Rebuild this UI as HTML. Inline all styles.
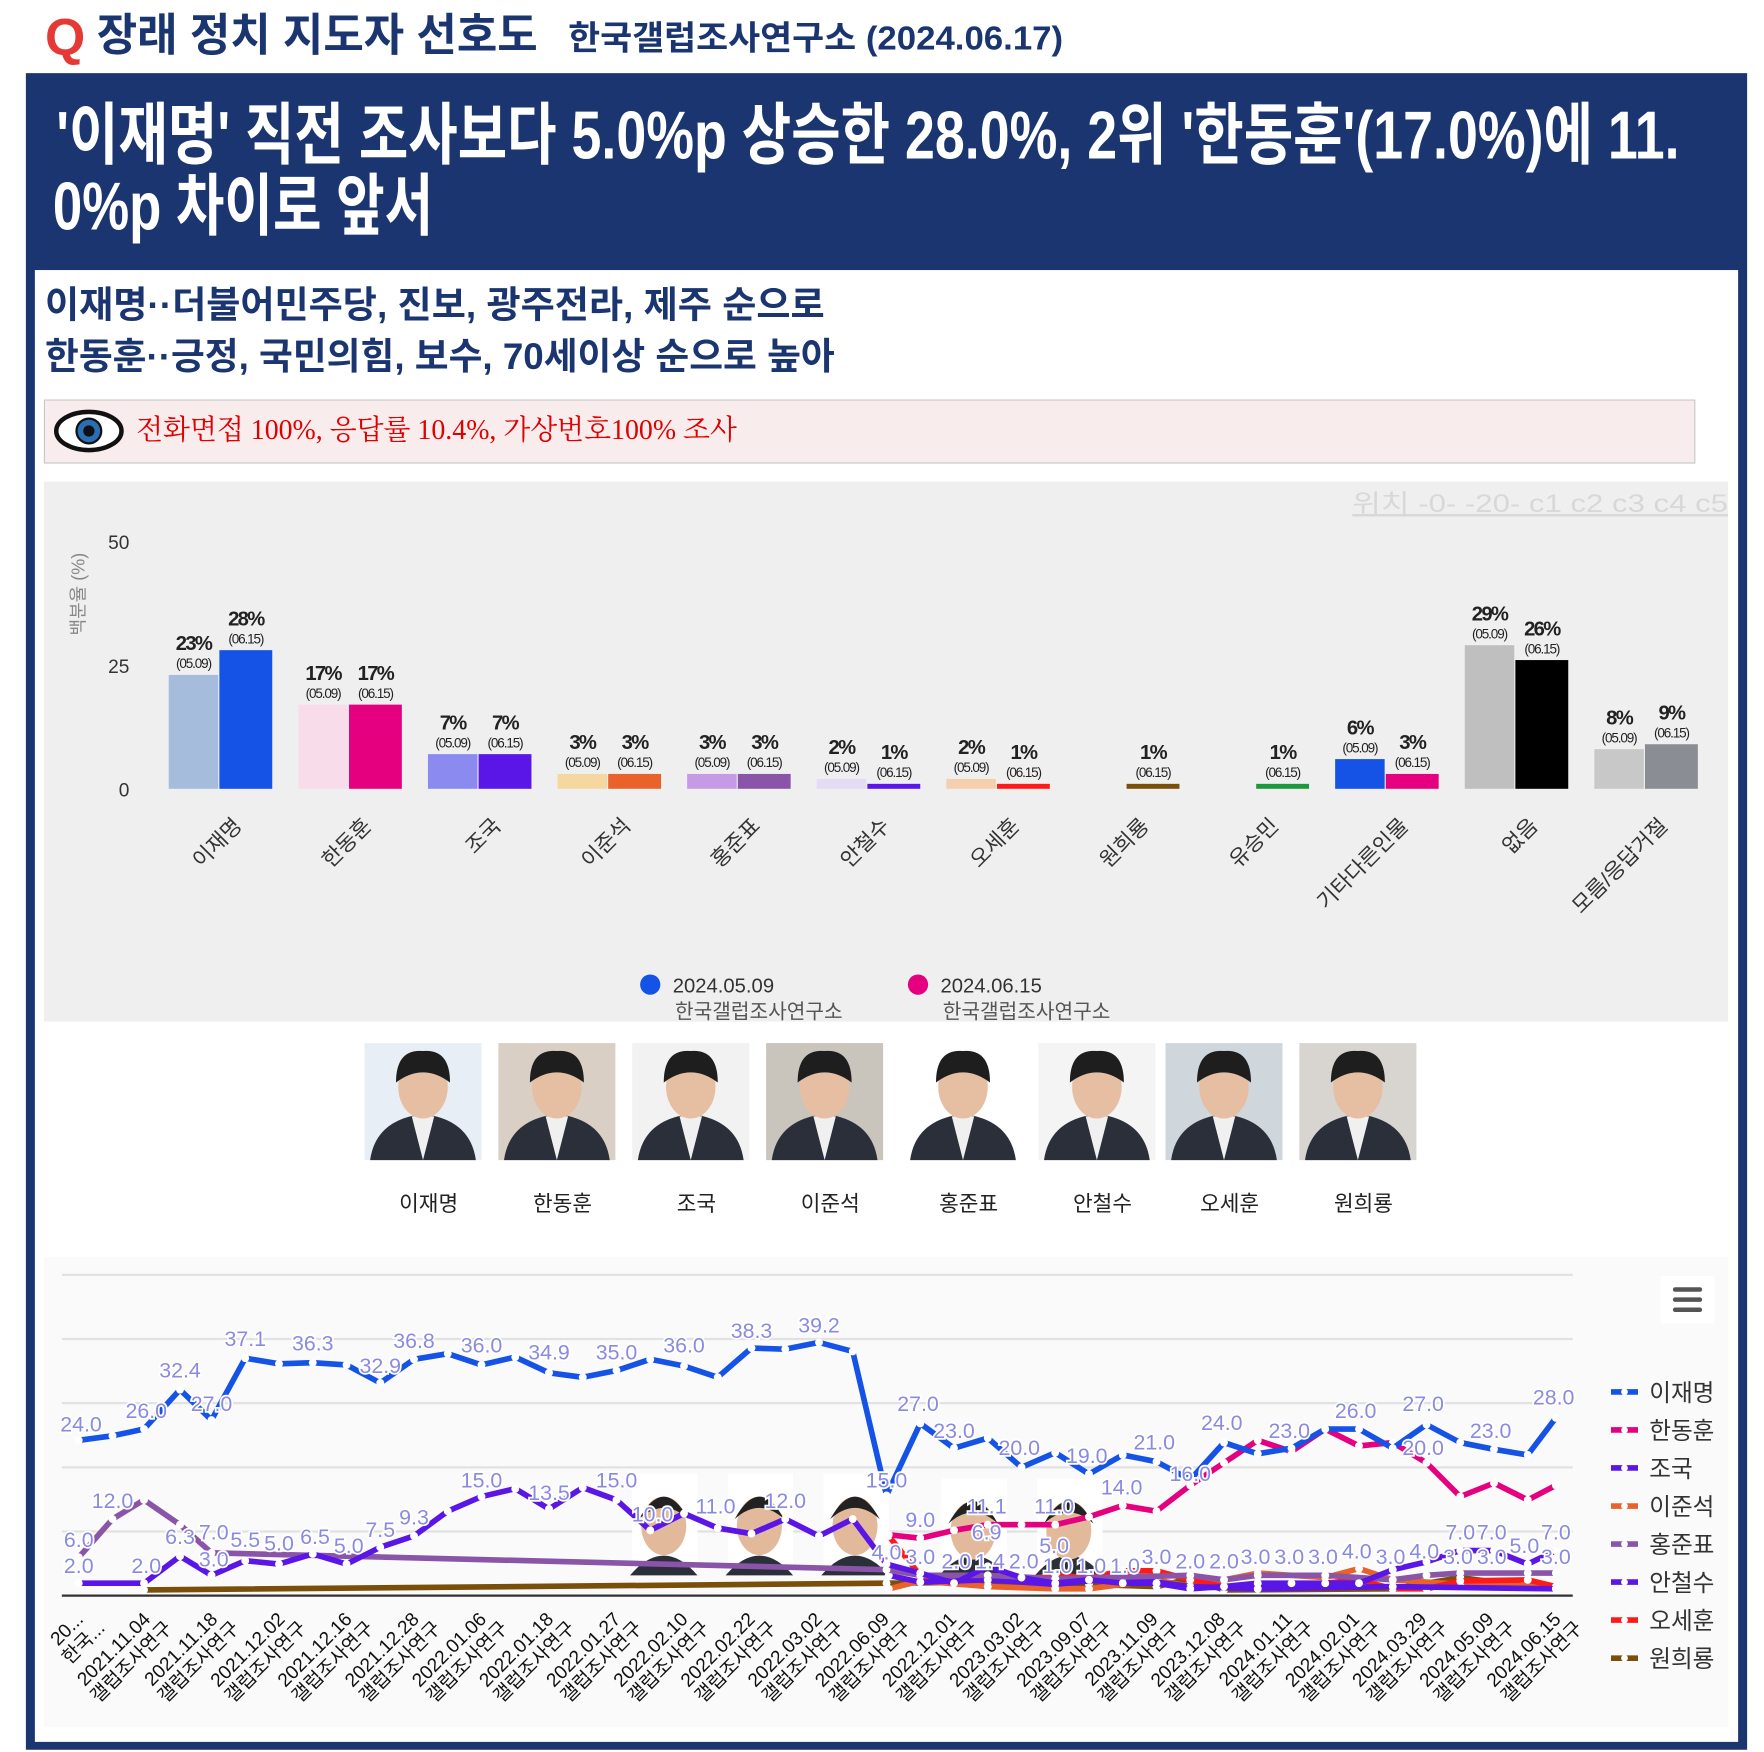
<!DOCTYPE html>
<html><head><meta charset="utf-8">
<style>
html,body{margin:0;padding:0;background:#fff;}
#w{width:1764px;height:1752px;overflow:hidden;}
svg{display:block;}
text{font-family:"Liberation Sans","Noto Sans CJK KR",sans-serif;}
</style></head>
<body><div id="w">
<svg id="s" width="1764" height="1752" viewBox="0 0 1568 1557" preserveAspectRatio="none" xmlns="http://www.w3.org/2000/svg">
<rect width="1568" height="1557" fill="#fff"/>
<text x="40" y="49" font-size="46" font-weight="bold" fill="#e53935">Q</text>
<text x="86" y="45" font-size="40" font-weight="bold" fill="#1a3570" textLength="392" lengthAdjust="spacingAndGlyphs">장래 정치 지도자 선호도</text>
<text x="505" y="44" font-size="30" font-weight="bold" fill="#1a3570" textLength="440" lengthAdjust="spacingAndGlyphs">한국갤럽조사연구소 (2024.06.17)</text>
<rect x="23" y="65" width="1530" height="1490" fill="#1a3570"/>
<text x="50" y="141" font-size="60" font-weight="bold" fill="#fff" textLength="1443" lengthAdjust="spacingAndGlyphs">'이재명' 직전 조사보다 5.0%p 상승한 28.0%, 2위 '한동훈'(17.0%)에 11.</text>
<text x="47" y="204" font-size="60" font-weight="bold" fill="#fff" textLength="338" lengthAdjust="spacingAndGlyphs">0%p 차이로 앞서</text>
<rect x="31" y="240" width="1514" height="1308" fill="#fff"/>
<text x="40" y="282" font-size="33" font-weight="bold" fill="#1a3570" textLength="693" lengthAdjust="spacingAndGlyphs">이재명··더불어민주당, 진보, 광주전라, 제주 순으로</text>
<text x="40" y="328" font-size="33" font-weight="bold" fill="#1a3570" textLength="702" lengthAdjust="spacingAndGlyphs">한동훈··긍정, 국민의힘, 보수, 70세이상 순으로 높아</text>
<rect x="39.5" y="355.5" width="1467" height="56" fill="#f8ecec" stroke="#c8c8c8"/>
<ellipse cx="79" cy="383" rx="29" ry="17" fill="#fff" stroke="#111" stroke-width="4"/>
<circle cx="79" cy="383" r="11" fill="#2a6fb5" stroke="#111" stroke-width="2"/>
<circle cx="79" cy="383" r="5" fill="#111"/>
<text x="121" y="390" font-size="25" fill="#e00000" textLength="534" lengthAdjust="spacingAndGlyphs" style="font-family:'Liberation Serif','Noto Serif CJK SC',serif">전화면접 100%, 응답률 10.4%, 가상번호100% 조사</text>
<rect x="39" y="428" width="1497" height="480" fill="#efefef"/>
<text x="1202" y="455" font-size="22" fill="#d8d8d8" text-decoration="underline" textLength="334" lengthAdjust="spacingAndGlyphs">위치 -0- -20- c1 c2 c3 c4 c5</text>
<text x="115" y="488" font-size="17" fill="#333" text-anchor="end">50</text>
<text x="115" y="598" font-size="17" fill="#333" text-anchor="end">25</text>
<text x="115" y="708" font-size="17" fill="#333" text-anchor="end">0</text>
<text transform="translate(75,528) rotate(-90)" font-size="16" fill="#888" text-anchor="middle">백분율 (%)</text>
<g id="bars"></g>
<circle cx="578" cy="875" r="9" fill="#1553e6"/>
<text x="598" y="882" font-size="18" fill="#333">2024.05.09</text>
<text x="600" y="905" font-size="18" fill="#555">한국갤럽조사연구소</text>
<circle cx="816" cy="875" r="9" fill="#e4007f"/>
<text x="836" y="882" font-size="18" fill="#333">2024.06.15</text>
<text x="838" y="905" font-size="18" fill="#555">한국갤럽조사연구소</text>
<rect x="39" y="908" width="1497" height="2" fill="#fff"/>
<g id="photos"></g>
<rect x="39" y="1117" width="1497" height="418" fill="#fafafa"/>
<g id="line"></g>
</svg>
</div>
<script>
var NS="http://www.w3.org/2000/svg";
function el(p,t,a,txt){var e=document.createElementNS(NS,t);for(var k in a)e.setAttribute(k,a[k]);if(txt!=null)e.textContent=txt;p.appendChild(e);return e;}
var B=document.getElementById('bars');
var cats=[["이재명",23,28,"#a6bcdc","#1553e6"],["한동훈",17,17,"#f9dcea","#e4007f"],["조국",7,7,"#8b8af0","#5a16e6"],["이준석",3,3,"#f5d7a0","#e8622a"],["홍준표",3,3,"#c79ae6","#8a55a8"],["안철수",2,1,"#e4dcf5","#5a16e6"],["오세훈",2,1,"#f5cfae","#ff1a1a"],["원희룡",0,1,"#000","#7a4f0a"],["유승민",0,1,"#000","#1a9a3a"],["기타다른인물",6,3,"#1553e6","#e4007f"],["없음",29,26,"#c0bfbf","#000"],["모름/응답거절",8,9,"#c8c8c8","#8a8e94"]];
cats.forEach(function(c,i){
 var x=150+115.2*i;
 [[c[1],c[3],x,44,"(05.09)"],[c[2],c[4],x+45,47,"(06.15)"]].forEach(function(b){
  if(!b[0])return;
  var h=Math.max(4,b[0]*4.4),top=701-h;
  el(B,'rect',{x:b[2],y:top,width:b[3],height:h,fill:b[1]});
  var cx=b[2]+b[3]/2;
  el(B,'text',{x:cx,y:top-22,'font-size':18,'font-weight':'bold','text-anchor':'middle',fill:'#222','letter-spacing':'-1.5'},b[0]+'%');
  el(B,'text',{x:cx,y:top-6,'font-size':12,'text-anchor':'middle',fill:'#222','letter-spacing':'-1'},b[4]);
 });
 var gx=x+46;
 el(B,'text',{transform:'translate('+(gx+20)+',735) rotate(-45)','font-size':19,'text-anchor':'end',fill:'#333'},c[0]);
});
var P=document.getElementById('photos');
var names=["이재명","한동훈","조국","이준석","홍준표","안철수","오세훈","원희룡"];
var pcx=[376,495,614,733,856,975,1088,1207];
var bgs=["#e8eef5","#d9cfc4","#f2f2f2","#c9c4bc","#fff","#f4f4f4","#cfd6dc","#d8d4d0"];
pcx.forEach(function(cx,i){
 var x=cx-52;
 el(P,'rect',{x:x,y:927,width:104,height:104,fill:bgs[i]});
 el(P,'path',{d:'M'+(x+5)+' 1031 Q'+(x+10)+' 995 '+(cx)+' 990 Q'+(x+94)+' 995 '+(x+99)+' 1031 Z',fill:'#2a2f3a'});
 el(P,'path',{d:'M'+(cx-10)+' 992 L'+cx+' 1031 L'+(cx+10)+' 992 Z',fill:'#f0f0f0'});
 el(P,'ellipse',{cx:cx,cy:966,rx:22,ry:28,fill:'#e6bfa2'});
 el(P,'path',{d:'M'+(cx-24)+' 962 Q'+(cx-24)+' 932 '+cx+' 934 Q'+(cx+24)+' 932 '+(cx+24)+' 962 Q'+cx+' 944 '+(cx-24)+' 962 Z',fill:'#1e1e1e'});
 el(P,'text',{x:cx+5,y:1076,'font-size':19,'text-anchor':'middle',fill:'#222'},names[i]);
});
var L=document.getElementById('line');
[1133,1190,1247,1304,1361].forEach(function(y){el(L,'line',{x1:55,x2:1398,y1:y,y2:y,stroke:'#e2e2e2','stroke-width':2});});
el(L,'line',{x1:55,x2:1398,y1:1418,y2:1418,stroke:'#333','stroke-width':2});
[[590,1318],[675,1318],[760,1318],[865,1322],[950,1322]].forEach(function(f){
 el(L,'rect',{x:f[0]-28,y:f[1]-8,width:58,height:90,fill:'#fff'});
 el(L,'path',{d:'M'+(f[0]-30)+' 1400 Q'+f[0]+' 1365 '+(f[0]+30)+' 1400 Z',fill:'#2a2f3a'});
 el(L,'ellipse',{cx:f[0],cy:f[1]+38,rx:20,ry:26,fill:'#e3b99c'});
 el(L,'path',{d:'M'+(f[0]-22)+' '+(f[1]+32)+' Q'+f[0]+' '+(f[1]-8)+' '+(f[0]+22)+' '+(f[1]+32)+' Q'+f[0]+' '+(f[1]+12)+' '+(f[0]-22)+' '+(f[1]+32)+'Z',fill:'#222'});
});
function series(col,pts){
 var d=pts.map(function(p,i){return (i?'L':'M')+p[0]+' '+p[1];}).join(' ');
 el(L,'path',{d:d,fill:'none',stroke:col,'stroke-width':5,'stroke-linejoin':'round'});
 pts.forEach(function(p){el(L,'circle',{cx:p[0],cy:p[1],r:3.5,fill:'#fff'});});
}
var lee=[[70,1280],[100,1276],[128,1270],[160,1235],[188,1262],[218,1207],[248,1212],[278,1211],[308,1213],[338,1229],[368,1208],[398,1203],[428,1213],[458,1206],[488,1220],[518,1224],[548,1218],[578,1208],[608,1214],[638,1224],[668,1198],[698,1199],[728,1193],[758,1201],[788,1329],[818,1265],[848,1287],[878,1278],[908,1304],[938,1291],[968,1310],[998,1293],[1028,1299],[1058,1315],[1088,1282],[1118,1292],[1148,1287],[1178,1270],[1208,1270],[1238,1287],[1268,1266],[1298,1282],[1328,1288],[1358,1293],[1383,1260]];
var han=[[790,1364],[818,1367],[848,1360],[878,1355],[908,1355],[938,1355],[968,1348],[998,1338],[1028,1343],[1058,1320],[1088,1300],[1118,1280],[1148,1290],[1178,1270],[1208,1285],[1238,1282],[1268,1300],[1298,1330],[1328,1318],[1358,1333],[1383,1320]];
var cho=[[70,1407],[128,1407],[160,1383],[188,1400],[218,1387],[248,1390],[278,1381],[308,1390],[338,1375],[368,1365],[398,1343],[428,1330],[458,1323],[488,1341],[518,1322],[548,1333],[578,1360],[608,1345],[638,1358],[668,1363],[698,1350],[728,1365],[758,1350],[788,1390],[818,1398],[848,1407],[878,1392],[908,1402],[938,1407],[968,1404],[998,1407],[1028,1407],[1058,1412],[1088,1410],[1118,1407],[1148,1407],[1178,1407],[1208,1407],[1238,1395],[1268,1388],[1298,1378],[1328,1378],[1358,1390],[1383,1378]];
var hong=[[70,1384],[100,1350],[128,1333],[160,1355],[188,1380],[788,1395],[818,1400],[878,1400],[938,1403],[1058,1400],[1088,1404],[1118,1400],[1178,1400],[1238,1404],[1268,1400],[1298,1398],[1358,1398],[1383,1398]];
var ahn=[[790,1400],[818,1406],[878,1404],[938,1408],[998,1402],[1058,1410],[1118,1412],[1238,1410],[1383,1412]];
var oh=[[790,1365],[818,1400],[848,1404],[878,1400],[908,1404],[938,1400],[968,1402],[998,1396],[1028,1396],[1058,1404],[1088,1410],[1148,1410],[1208,1404],[1238,1412],[1268,1412],[1298,1405],[1358,1404],[1383,1410]];
var lj=[[790,1412],[818,1405],[878,1410],[938,1412],[968,1412],[1028,1404],[1058,1410],[1118,1398],[1178,1402],[1208,1394],[1238,1404],[1298,1408],[1383,1410]];
var won=[[128,1413],[788,1407],[878,1406],[968,1408],[1028,1410],[1058,1403],[1088,1413],[1238,1412],[1298,1402],[1358,1410],[1383,1412]];
series('#7a4f0a',won);series('#e8622a',lj);series('#ff1a1a',oh);series('#5a16e6',ahn);series('#8a55a8',hong);series('#5a16e6',cho);series('#e4007f',han);series('#1553e6',lee);
var labs=[[72,1272,"24.0"],[130,1260,"26.0"],[160,1224,"32.4"],[188,1254,"27.0"],[218,1196,"37.1"],[278,1200,"36.3"],[338,1220,"32.9"],[368,1198,"36.8"],[428,1202,"36.0"],[488,1208,"34.9"],[548,1208,"35.0"],[608,1202,"36.0"],[668,1189,"38.3"],[728,1184,"39.2"],[788,1322,"15.0"],[816,1254,"27.0"],[848,1278,"23.0"],[906,1293,"20.0"],[966,1300,"19.0"],[1026,1288,"21.0"],[1058,1316,"16.0"],[1086,1271,"24.0"],[1146,1278,"23.0"],[1205,1260,"26.0"],[1265,1254,"27.0"],[1265,1293,"20.0"],[1325,1278,"23.0"],[1381,1248,"28.0"],
[100,1340,"12.0"],[70,1375,"6.0"],[70,1398,"2.0"],[130,1398,"2.0"],[160,1372,"6.3"],[190,1368,"7.0"],[190,1392,"3.0"],[218,1375,"5.5"],[248,1378,"5.0"],[280,1372,"6.5"],[310,1380,"5.0"],[338,1366,"7.5"],[368,1355,"9.3"],[428,1322,"15.0"],[488,1333,"13.5"],[548,1322,"15.0"],[580,1352,"10.0"],[636,1345,"11.0"],[698,1340,"12.0"],[818,1357,"9.0"],[877,1345,"11.1"],[937,1345,"11.0"],[997,1328,"14.0"],[877,1368,"6.9"],[937,1380,"5.0"],[1298,1368,"7.0"],[1326,1368,"7.0"],[1355,1380,"5.0"],[1383,1368,"7.0"],[788,1386,"4.0"],[818,1390,"3.0"],[1028,1390,"3.0"],[1058,1394,"2.0"],[1088,1394,"2.0"],[1116,1390,"3.0"],[1146,1390,"3.0"],[1176,1390,"3.0"],[1206,1385,"4.0"],[1236,1390,"3.0"],[1266,1385,"4.0"],[1296,1390,"3.0"],[1326,1390,"3.0"],[1383,1390,"3.0"],[850,1394,"2.0"],[880,1394,"1.4"],[910,1394,"2.0"],[940,1398,"1.0"],[970,1398,"1.0"],[1000,1398,"1.0"]];
labs.forEach(function(l){el(L,'text',{x:l[0],y:l[1],'font-size':19,'text-anchor':'middle',fill:'#8a8ae0',stroke:'#fff','stroke-width':3,'paint-order':'stroke'},l[2]);});
var dates=["20...","2021.11.04","2021.11.18","2021.12.02","2021.12.16","2021.12.28","2022.01.06","2022.01.18","2022.01.27","2022.02.10","2022.02.22","2022.03.02","2022.06.09","2022.12.01","2023.03.02","2023.09.07","2023.11.09","2023.12.08","2024.01.11","2024.02.01","2024.03.29","2024.05.09","2024.06.15"];
dates.forEach(function(d,i){
 var x=75+i*59.7;
 var g=el(L,'g',{transform:'translate('+x+',1440) rotate(-45)'});
 el(g,'text',{x:0,y:0,'font-size':17,'text-anchor':'end',fill:'#111'},d);
 el(g,'text',{x:8,y:19,'font-size':17,'text-anchor':'end',fill:'#111'},i==0?"한국...":"갤럽조사연구");
});
el(L,'rect',{x:1476,y:1134,width:48,height:42,fill:'#fff'});
[1146,1155,1164].forEach(function(y){el(L,'rect',{x:1487,y:y-2,width:26,height:4,rx:2,fill:'#555'});});
var leg=[["이재명","#1553e6"],["한동훈","#e4007f"],["조국","#5a16e6"],["이준석","#e8622a"],["홍준표","#8a55a8"],["안철수","#5a16e6"],["오세훈","#ff1a1a"],["원희룡","#7a4f0a"]];
leg.forEach(function(l,i){
 var y=1237+i*33.8;
 el(L,'line',{x1:1432,x2:1456,y1:y,y2:y,stroke:l[1],'stroke-width':5});
 el(L,'circle',{cx:1444,cy:y,r:3,fill:'#fff'});
 el(L,'text',{x:1466,y:y+8,'font-size':21,fill:'#333'},l[0]);
});
</script>
</body></html>
